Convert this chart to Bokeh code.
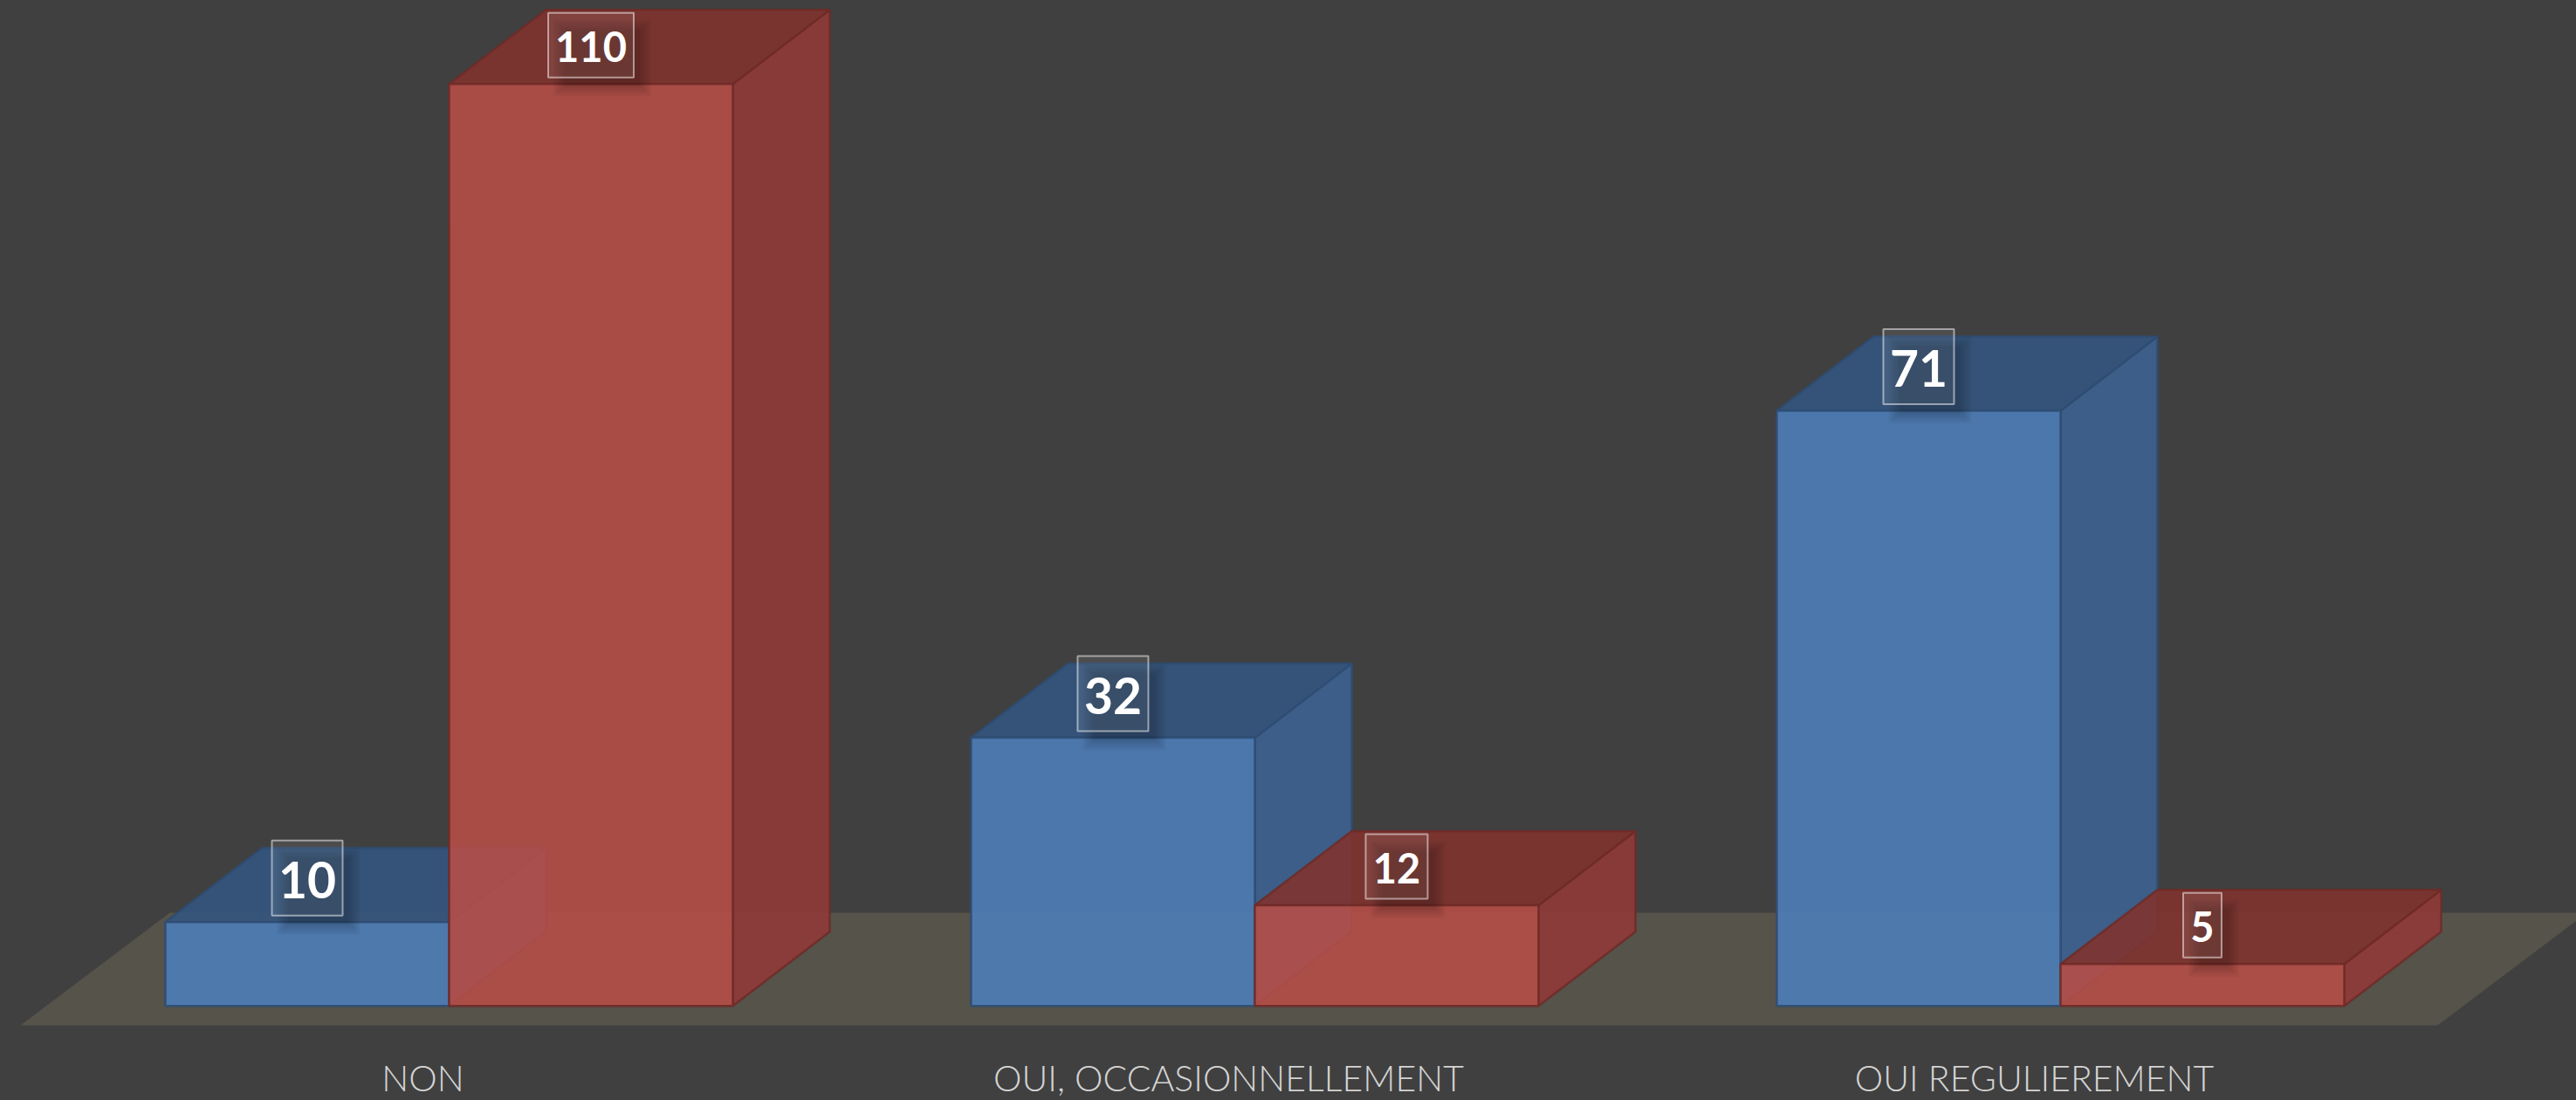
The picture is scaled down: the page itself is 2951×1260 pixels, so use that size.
from bokeh.plotting import figure
from bokeh.models import FixedTicker
from bokeh.core.properties import value
from bokeh.embed import file_html
from bokeh.resources import INLINE

categories = ["NON", "OUI, OCCASIONNELLEMENT", "OUI REGULIEREMENT"]
series_blue = [10, 32, 71]
series_red = [110, 12, 5]

W, H = 2951, 1260
FRAME_H = 1180
BASE_PX = 1151.7       # pixel row of value 0
UNIT = 9.6             # pixels per value unit
GROUP0, GROUP_STEP = 514, 923
BAR_W = 325
DX, DY = 111, 85 / UNIT
FONT = "Lato"
BG = "#404040"

BLUE = dict(front="#4d7eba", top="#34547d", side="#3c618f", edge="#2e4c72", text_px=57, char_w=32)
RED = dict(front="#b64d47", top="#7e332f", side="#8f3a38", edge="#6e2a27", text_px=47, char_w=27)

p = figure(width=W, height=H, frame_height=FRAME_H, x_range=(0, W),
           y_range=((BASE_PX - FRAME_H) / UNIT, BASE_PX / UNIT),
           output_backend="svg", toolbar_location=None,
           background_fill_color=BG, border_fill_color=BG,
           outline_line_color=None, min_border=0, min_border_bottom=H - FRAME_H)
p.styles = {"position": "absolute", "left": "0", "top": "0", "background-color": BG}
p.grid.visible = False
p.yaxis.visible = False

# floor
fb, ft = -22.3 / UNIT, 106.7 / UNIT
p.patch([23, 2792, 2792 + 171, 23 + 171], [fb, fb, ft, ft], fill_color="#55534a", line_color=None)


def box(left, v, st):
    r = left + BAR_W
    faces = [
        # inner faces, seen through the front
        ([left + DX, r + DX, r + DX, left + DX], [DY, DY, v + DY, v + DY], st["front"], 0.10, 0.18),
        ([left, left + DX, left + DX, left], [0, DY, v + DY, v], st["front"], 0.10, 0.18),
        ([left, r, r + DX, left + DX], [0, 0, DY, DY], st["front"], 0.10, 0.18),
        # outer faces
        ([r, r + DX, r + DX, r], [0, DY, v + DY, v], st["side"], 0.9, 0.8),
        ([left, r, r + DX, left + DX], [v, v, v + DY, v + DY], st["top"], 0.9, 0.8),
        ([left, r, r, left], [0, 0, v, v], st["front"], 0.88, 0.85),
    ]
    for xs, ys, col, fa, la in faces:
        p.patch(xs, ys, fill_color=col, fill_alpha=fa, line_color=st["edge"], line_alpha=la, line_width=2.5)


for i in range(len(categories)):
    c = GROUP0 + i * GROUP_STEP
    box(c - BAR_W, series_blue[i], BLUE)
    box(c, series_red[i], RED)


def label(cx, v, st):
    txt = str(v)
    w = 17 + len(txt) * st["char_w"]
    h = 86 if st is BLUE else 74
    b = v + 7.5 / UNIT
    t = b + h / UNIT
    # soft shadow
    for k in range(6):
        g = k * 2.5
        p.quad(left=[cx - w / 2 + 13 - 7 + g], right=[cx + w / 2 + 13 + 7 - g],
               top=[t - (15 - 7 + g) / UNIT], bottom=[b - (15 + 7 - g) / UNIT],
               fill_color="#000000", fill_alpha=0.035, line_color=None)
    p.quad(left=[cx - w / 2], right=[cx + w / 2], top=[t], bottom=[b],
           fill_color="#ffffff", fill_alpha=0.07, line_color="#ffffff", line_alpha=0.5, line_width=2)
    p.text(x=[cx], y=[(t + b) / 2 - 2 / UNIT], text=[txt], text_color="#ffffff",
           text_font=value(FONT), text_font_style="bold", text_font_size=f"{st['text_px']}px",
           text_align="center", text_baseline="middle")


for i in range(len(categories)):
    c = GROUP0 + i * GROUP_STEP
    label(c - BAR_W / 2, series_blue[i], BLUE)
    label(c + BAR_W / 2, series_red[i], RED)

ticks = [GROUP0 + i * GROUP_STEP - 30 for i in range(len(categories))]
ax = p.xaxis[0]
ax.ticker = FixedTicker(ticks=ticks)
ax.major_label_overrides = {t: c for t, c in zip(ticks, categories)}
ax.axis_line_color = None
ax.major_tick_line_color = None
ax.minor_tick_line_color = None
ax.major_tick_in = 0
ax.major_tick_out = 0
ax.major_label_standoff = 29
ax.major_label_text_font = "Lato Light"
ax.major_label_text_font_style = "normal"
ax.major_label_text_font_size = "41px"
ax.major_label_text_color = "#d4d4d4"

open("out.html", "w").write(file_html(p, INLINE))
